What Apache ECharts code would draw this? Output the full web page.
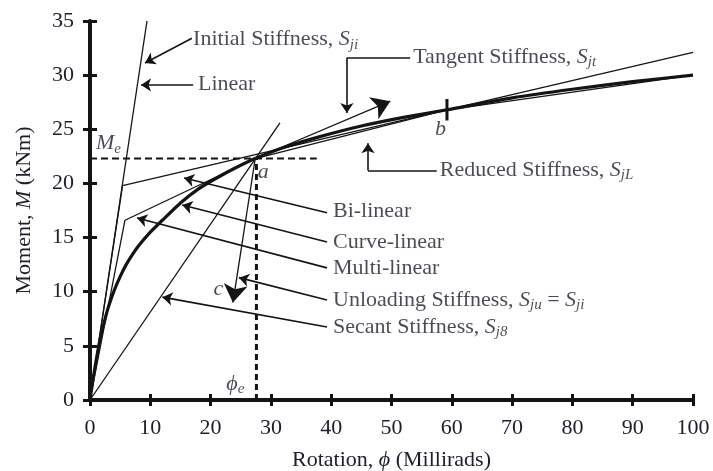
<!DOCTYPE html>
<html><head><meta charset="utf-8">
<script src="https://cdn.jsdelivr.net/npm/echarts@6/dist/echarts.min.js"></script>
<style>html,body{margin:0;padding:0;background:#fff}#c{width:713px;height:471px}</style>
</head><body><div id="c"></div>
<script>
// ---- data (x: rotation, millirads; y: moment, kNm) ----
const xTickLabels = [0,10,20,30,40,50,60,70,80,90,100];
const yTickLabels = [0,5,10,15,20,25,30,35];
const curveLinear = [[0,0],[0.5,1.9],[1,3.6],[1.5,5.1],[2,6.4],[3,8.5],[4,10.1],[5,11.4],[6,12.5],[7,13.4],[8,14.2],[10,15.5],[12,16.6],[15,18.2],[18,19.5],[21,20.5],[24,21.4],[27.4,22.3],[32,23.3],[38,24.3],[45,25.3],[52,26.1],[59.2,26.8],[70,27.9],[80,28.7],[90,29.4],[100,30.0]];
const initialStiffness = [[0,0],[9.45,35]];
const biLinear = [[0,0],[5.4,19.8],[100,32.1]];
const multiLinear = [[0,0],[5.8,16.6],[27.4,22.3],[59.2,26.8],[100,30.0]];
const secantLine = [[0,0],[31.5,25.6]];
const tangentArrow = [[27.4,22.3],[49.8,27.6]];
const unloadingArrow = [[27.4,22.3],[23.7,9.0]];
const meLine = [[0,22.3],[37.6,22.3]];
const phiLine = [[27.6,0],[27.6,22.3]];
const bTick = [[59.2,25.8],[59.2,27.8]];
// leader lines for annotations: plain segments and arrow-tipped segments
const leaderPlain = [
  [[53.1,31.6],[42.6,31.6]],
  [[57.5,21.2],[46.1,21.2]]
];
const leaderArrows = [
  [[16.9,33.4],[9.12,31.12]],
  [[17.1,29.1],[8.46,29.1]],
  [[42.6,31.6],[42.6,26.5]],
  [[46.1,21.2],[46.1,23.7]],
  [[39.3,17.3],[15.6,20.5]],
  [[39.3,14.6],[15.3,18.0]],
  [[39.3,12.2],[7.8,16.8]],
  [[39.3,9.23],[24.7,11.3]],
  [[39.3,6.74],[12.0,9.5]]
];
const annoText = [
  {pos:[17.1,33.3], txt:'{t|Initial Stiffness, }{i|S}{sub|ji}'},
  {pos:[17.9,29.15], txt:'{t|Linear}'},
  {pos:[53.6,31.7], txt:'{t|Tangent Stiffness, }{i|S}{sub|jt}'},
  {pos:[58.0,21.25], txt:'{t|Reduced Stiffness, }{i|S}{sub|jL}'},
  {pos:[40.3,17.4], txt:'{t|Bi-linear}'},
  {pos:[40.3,14.6], txt:'{t|Curve-linear}'},
  {pos:[40.3,12.2], txt:'{t|Multi-linear}'},
  {pos:[40.3,9.25], txt:'{t|Unloading Stiffness, }{i|S}{sub|ju}{t| = }{i|S}{sub|ji}'},
  {pos:[40.3,6.75], txt:'{t|Secant Stiffness, }{i|S}{sub|j8}'},
  {pos:[1.0,23.7], txt:'{i|M}{sub|e}'},
  {pos:[22.6,1.5], txt:'{i|ϕ}{sub|e}'},
  {pos:[27.8,21.0], txt:'{i|a}'},
  {pos:[57.2,25.0], txt:'{i|b}'},
  {pos:[20.5,10.2], txt:'{i|c}'}
];

const FONT = 'Liberation Serif';
const TXT = '#1d1d2b';
const INK = '#141414';
const rich = {
  t:{fontFamily:FONT,fontSize:22,color:TXT,lineHeight:26},
  i:{fontFamily:FONT,fontSize:22,fontStyle:'italic',color:TXT,lineHeight:26},
  sub:{fontFamily:FONT,fontSize:15,fontStyle:'italic',color:TXT,lineHeight:15,verticalAlign:'bottom'}
};

function lineSeries(data, width, extra){
  return Object.assign({type:'line', data:data, showSymbol:false, symbol:'none', silent:true,
    lineStyle:{color:INK,width:width}, z:3}, extra||{});
}

const chart = echarts.init(document.getElementById('c'), null, {renderer:'canvas'});
const xBase = {type:'value', min:0, max:100, interval:10};
const yBase = {type:'value', min:0, max:35, interval:5};
chart.setOption({
  animation:false,
  backgroundColor:'#fff',
  grid:{left:90,right:20,top:21,bottom:71,containLabel:false,outerBoundsMode:'none'},
  xAxis:[
    Object.assign({}, xBase, {position:'bottom',
      name:'{t|Rotation, }{i|ϕ}{t| (Millirads)}', nameLocation:'middle', nameGap:47,
      nameTextStyle:{rich:rich},
      axisLine:{show:true,lineStyle:{color:INK,width:4}},
      axisTick:{show:true,inside:false,length:6,lineStyle:{color:INK,width:3}},
      axisLabel:{fontFamily:FONT,fontSize:22,color:TXT,margin:17,
        formatter:function(v){return xTickLabels.indexOf(v)>=0?String(v):'';}},
      splitLine:{show:false}}),
    Object.assign({}, xBase, {position:'bottom',
      axisLine:{show:false}, axisLabel:{show:false}, splitLine:{show:false},
      axisTick:{show:true,inside:true,length:6,lineStyle:{color:INK,width:3}}}),
    Object.assign({}, xBase, {position:'top',
      axisLine:{show:true,lineStyle:{color:INK,width:2}}, axisLabel:{show:false},
      axisTick:{show:false}, splitLine:{show:false}})
  ],
  yAxis:[
    Object.assign({}, yBase, {position:'left',
      name:'{t|Moment, }{i|M}{t| (kNm)}', nameLocation:'middle', nameGap:53, nameRotate:90,
      nameTextStyle:{rich:rich},
      axisLine:{show:true,lineStyle:{color:INK,width:4}},
      axisTick:{show:true,inside:false,length:7,lineStyle:{color:INK,width:3}},
      axisLabel:{fontFamily:FONT,fontSize:22,color:TXT,margin:16,
        formatter:function(v){return yTickLabels.indexOf(v)>=0?String(v):'';}},
      splitLine:{show:false}}),
    Object.assign({}, yBase, {position:'left',
      axisLine:{show:false}, axisLabel:{show:false}, splitLine:{show:false},
      axisTick:{show:true,inside:true,length:7,lineStyle:{color:INK,width:3}}}),
    Object.assign({}, yBase, {position:'right',
      axisLine:{show:true,lineStyle:{color:INK,width:2.5}}, axisLabel:{show:false},
      axisTick:{show:false}, splitLine:{show:false}})
  ],
  series:[
    lineSeries(curveLinear, 3.2, {smooth:0.2, z:4}),
    lineSeries(initialStiffness, 1.3),
    lineSeries(biLinear, 1.3),
    lineSeries(multiLinear, 1.3),
    lineSeries(secantLine, 1.3),
    lineSeries(meLine, 2.2, {lineStyle:{color:INK,width:2.2,type:[7,4]}}),
    lineSeries(phiLine, 3, {lineStyle:{color:INK,width:3,type:[6,4]}}),
    lineSeries(bTick, 3),
    {type:'lines', coordinateSystem:'cartesian2d', silent:true, z:5,
      symbol:['none','arrow'], symbolSize:[0,18],
      lineStyle:{color:INK,width:1.3,opacity:1},
      data:[{coords:tangentArrow},{coords:unloadingArrow}]},
    {type:'lines', coordinateSystem:'cartesian2d', silent:true, z:5,
      symbol:['none','none'], symbolSize:0,
      lineStyle:{color:INK,width:1.6,opacity:1},
      data:leaderPlain.map(function(c){return {coords:c};})},
    {type:'lines', coordinateSystem:'cartesian2d', silent:true, z:5,
      symbol:['none','arrow'], symbolSize:[0,10],
      lineStyle:{color:INK,width:1.6,opacity:1},
      data:leaderArrows.map(function(c){return {coords:c};})},
    {type:'scatter', silent:true, symbolSize:0, z:6,
      label:{show:true, position:'right', distance:0, rich:rich},
      data:annoText.map(function(a){return {value:a.pos, label:{formatter:a.txt}};})}
  ]
});
</script></body></html>
